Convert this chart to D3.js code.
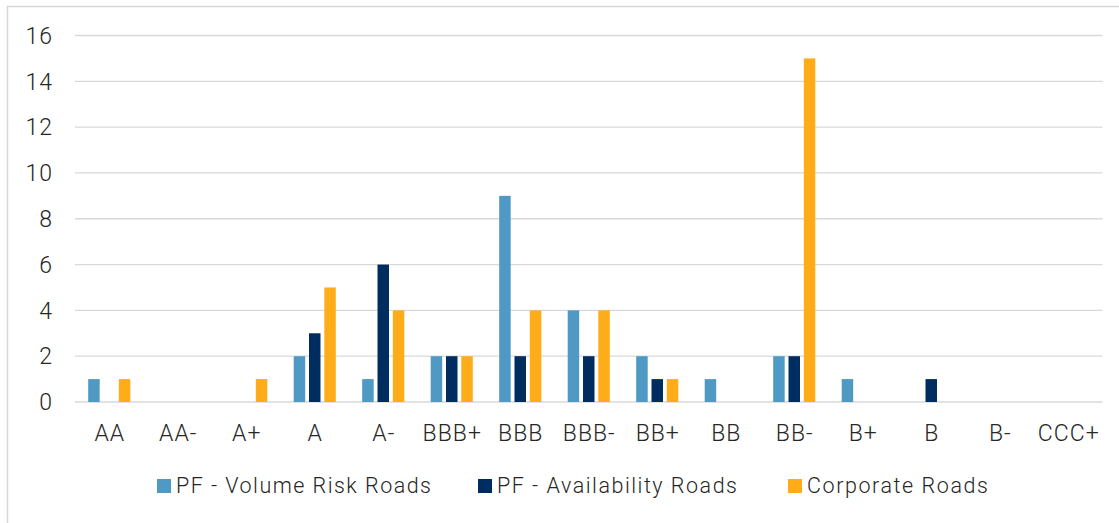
<!DOCTYPE html>
<html>
<head>
<meta charset="utf-8">
<script src="https://cdn.jsdelivr.net/npm/d3@7"></script>
<style>
  html, body { margin: 0; padding: 0; background: #ffffff; }
  svg { display: block; }
  text { font-family: Roboto, "Open Sans", "Liberation Sans", sans-serif; font-weight: 300; fill: #262626; }
</style>
</head>
<body>
<svg id="chart" width="1119" height="523"></svg>
<script>
// Rating categories along the x axis
const ratings = ["AA", "AA-", "A+", "A", "A-", "BBB+", "BBB", "BBB-", "BB+", "BB", "BB-", "B+", "B", "B-", "CCC+"];

// Number of rated issuers per category, by segment
const volumeRisk   = [1, 0, 0, 2, 1, 2, 9, 4, 2, 1, 2, 1, 0, 0, 0];
const availability = [0, 0, 0, 3, 6, 2, 2, 2, 1, 0, 2, 0, 1, 0, 0];
const corporate    = [1, 0, 1, 5, 4, 2, 4, 4, 1, 0, 15, 0, 0, 0, 0];

const seriesNames  = ["PF - Volume Risk Roads", "PF - Availability Roads", "Corporate Roads"];
const seriesColors = ["#4f9ac4", "#002d5f", "#ffac19"];
const yTicks = [0, 2, 4, 6, 8, 10, 12, 14, 16];

const seriesValues = [volumeRisk, availability, corporate];

const svg = d3.select("#chart");

// Frame around the chart area
svg.append("path")
  .attr("d", "M7.5,523 L7.5,6.5 L1119,6.5")
  .attr("fill", "none")
  .attr("stroke", "#d9d9d9")
  .attr("stroke-width", 1.5);

const x0 = d3.scaleBand().domain(ratings).range([75, 1102.5]).paddingInner(0).paddingOuter(0);
const x1 = d3.scaleBand().domain(seriesNames).range([-21.05, 21.05]).paddingInner(0.25).paddingOuter(0);
const y = d3.scaleLinear().domain([0, 16]).range([402, 35.5]);

// Horizontal gridlines (the zero line doubles as the category axis)
svg.append("g")
  .selectAll("line")
  .data(yTicks)
  .join("line")
  .attr("x1", 75)
  .attr("x2", 1102.5)
  .attr("y1", d => y(d))
  .attr("y2", d => y(d))
  .attr("stroke", "#d9d9d9")
  .attr("stroke-width", 1.3);

// Y axis labels
svg.append("g")
  .selectAll("text")
  .data(yTicks)
  .join("text")
  .attr("x", 53)
  .attr("y", d => y(d))
  .attr("dy", "0.36em")
  .attr("text-anchor", "end")
  .attr("font-size", 23)
  .attr("letter-spacing", 1)
  .text(d => d);

// Bars
const groups = svg.append("g")
  .selectAll("g")
  .data(ratings)
  .join("g")
  .attr("transform", d => `translate(${x0(d) + x0.bandwidth() / 2},0)`);

groups.selectAll("rect")
  .data((r, i) => seriesNames.map((s, k) => ({ s, k, v: seriesValues[k][i] })).filter(d => d.v > 0))
  .join("rect")
  .attr("x", d => x1(d.s))
  .attr("width", x1.bandwidth())
  .attr("y", d => y(d.v))
  .attr("height", d => y(0) - y(d.v))
  .attr("fill", d => seriesColors[d.k]);

// Category labels
svg.append("g")
  .selectAll("text")
  .data(ratings)
  .join("text")
  .attr("x", d => x0(d) + x0.bandwidth() / 2 + 0.5)
  .attr("y", 441)
  .attr("text-anchor", "middle")
  .attr("font-size", 23)
  .attr("letter-spacing", 1)
  .text(d => d);

// Legend
const legendX = [157, 478, 788];
const legendW = [255, 240, 181];
const legend = svg.append("g")
  .selectAll("g")
  .data(seriesNames)
  .join("g")
  .attr("transform", (d, i) => `translate(${legendX[i]},0)`);

legend.append("rect")
  .attr("x", 0)
  .attr("y", 479)
  .attr("width", 14)
  .attr("height", 14)
  .attr("fill", (d, i) => seriesColors[i]);

legend.append("text")
  .attr("x", 19)
  .attr("y", 493)
  .attr("font-size", 21.5)
  .attr("textLength", (d, i) => legendW[i])
  .attr("lengthAdjust", "spacing")
  .text(d => d);
</script>
</body>
</html>
